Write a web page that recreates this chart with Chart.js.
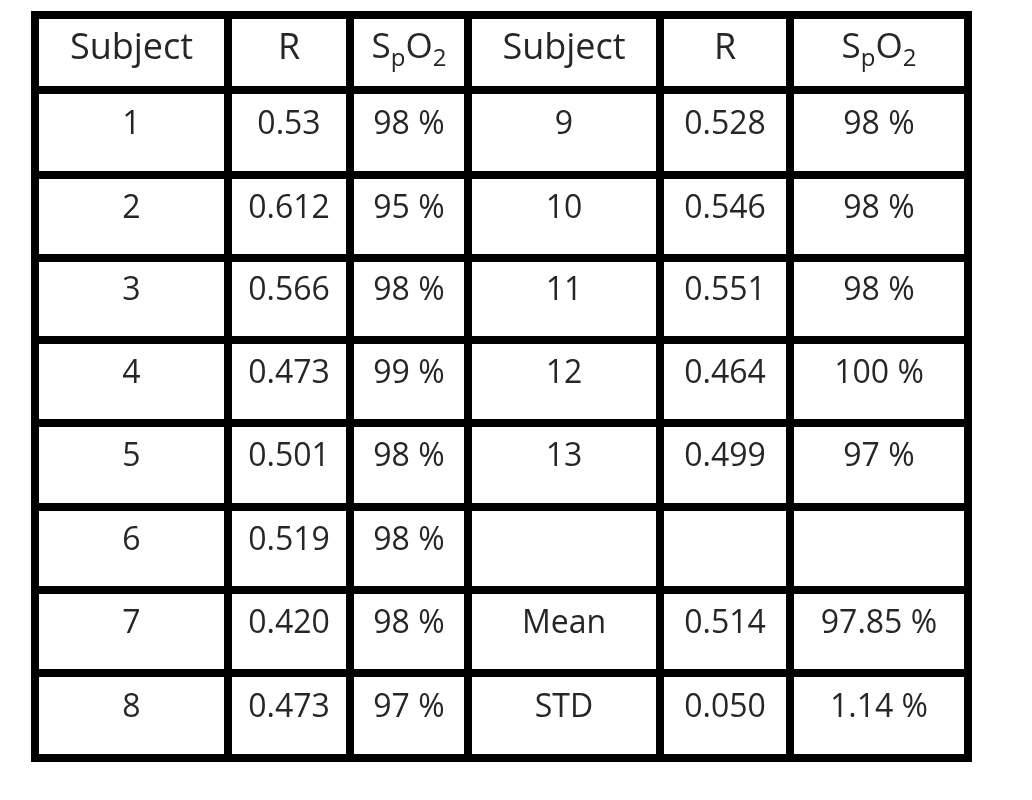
<!DOCTYPE html>
<html><head><meta charset="utf-8">
<script src="https://cdn.jsdelivr.net/npm/chart.js@4"></script>
<style>html,body{margin:0;padding:0;background:#fff}#wrap{width:1032px;height:800px}</style>
</head><body><div id="wrap"><canvas id="c"></canvas></div>
<script>
const headers = ["Subject","R","SpO2","Subject","R","SpO2"];
const subjectsA = ["1","2","3","4","5","6","7","8"];
const rA = ["0.53","0.612","0.566","0.473","0.501","0.519","0.420","0.473"];
const spo2A = ["98 %","95 %","98 %","99 %","98 %","98 %","98 %","97 %"];
const subjectsB = ["9","10","11","12","13","","Mean","STD"];
const rB = ["0.528","0.546","0.551","0.464","0.499","","0.514","0.050"];
const spo2B = ["98 %","98 %","98 %","100 %","97 %","","97.85 %","1.14 %"];

// layout (scale units = px inside table)
const colEdges = [0,193,315,433,625,755,933];
const rowEdges = [0,75,160,243,325,408,492,575,658,743];

const tablePlugin = {
  id:'table',
  afterDraw(chart){
    const ctx = chart.ctx, xs = chart.scales.x, ys = chart.scales.y;
    const X = v=>xs.getPixelForValue(v), Y = v=>ys.getPixelForValue(v);
    const cols = [subjectsA,rA,spo2A,subjectsB,rB,spo2B];
    ctx.save();
    ctx.fillStyle='#262626';
    ctx.textAlign='center'; ctx.textBaseline='middle';
    const font = s=>s+'px "Open Sans", "Liberation Sans", sans-serif';
    for(let c=0;c<6;c++){
      const cx=(X(colEdges[c])+X(colEdges[c+1]))/2;
      const hy=(Y(rowEdges[0])+Y(rowEdges[1]))/2-4;
      const h=headers[c];
      if(h==="SpO2"){
        ctx.font=font(35);
        const wS=ctx.measureText("S").width, wO=ctx.measureText("O").width;
        ctx.font=font(24);
        const wp=ctx.measureText("p").width, w2=ctx.measureText("2").width;
        let x=cx-(wS+wp+wO+w2)/2;
        ctx.textAlign='left';
        ctx.font=font(35); ctx.fillText("S",x,hy); x+=wS;
        ctx.font=font(24); ctx.fillText("p",x,hy+11); x+=wp;
        ctx.font=font(35); ctx.fillText("O",x,hy); x+=wO;
        ctx.font=font(24); ctx.fillText("2",x,hy+11);
        ctx.textAlign='center';
      } else {
        ctx.font=font(36); ctx.fillText(h,cx,hy);
      }
      ctx.font=font(32);
      for(let r=0;r<cols[c].length;r++){
        const cy=(Y(rowEdges[r+1])+Y(rowEdges[r+2]))/2-8;
        ctx.fillText(cols[c][r],cx,cy);
      }
    }
    ctx.strokeStyle='#000'; ctx.lineWidth=8; ctx.lineCap='square';
    ctx.beginPath();
    colEdges.forEach(v=>{ctx.moveTo(X(v),Y(0));ctx.lineTo(X(v),Y(743));});
    rowEdges.forEach(v=>{ctx.moveTo(X(0),Y(v));ctx.lineTo(X(933),Y(v));});
    ctx.stroke();
    ctx.restore();
  }
};

new Chart(document.getElementById('c'),{
  type:'scatter',
  data:{datasets:[{data:[]}]},
  options:{
    responsive:true, maintainAspectRatio:false, animation:false,
    layout:{padding:{left:35,right:64,top:15,bottom:42}},
    plugins:{legend:{display:false},tooltip:{enabled:false}},
    scales:{
      x:{type:'linear',min:0,max:933,display:false},
      y:{type:'linear',min:0,max:743,reverse:true,display:false}
    }
  },
  plugins:[tablePlugin]
});
</script></body></html>
